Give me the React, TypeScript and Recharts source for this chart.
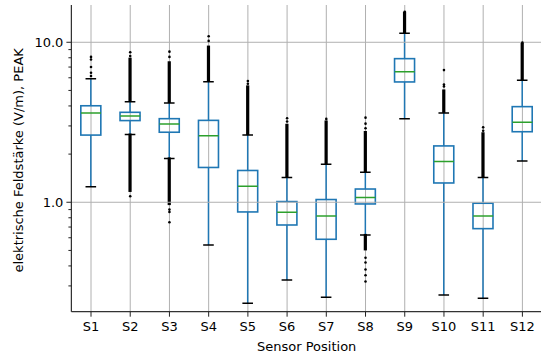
import React from "react";
import { ComposedChart, Bar, Scatter, XAxis, YAxis, CartesianGrid, ReferenceLine } from "recharts";

const sensors = ["S1", "S2", "S3", "S4", "S5", "S6", "S7", "S8", "S9", "S10", "S11", "S12"];
const whiskerLow = [1.25, 2.65, 1.88, 0.541, 0.234, 0.327, 0.255, 0.625, 3.33, 0.263, 0.251, 1.81];
const q1 = [2.63, 3.24, 2.74, 1.65, 0.87, 0.721, 0.587, 0.976, 5.65, 1.32, 0.684, 2.76];
const median = [3.62, 3.46, 3.09, 2.6, 1.26, 0.866, 0.821, 1.07, 6.55, 1.8, 0.821, 3.16];
const q3 = [4.01, 3.65, 3.33, 3.25, 1.58, 1.01, 1.04, 1.21, 7.9, 2.25, 0.986, 3.96];
const whiskerHigh = [5.92, 4.25, 4.17, 5.67, 2.63, 1.43, 1.73, 1.54, 11.4, 3.62, 1.43, 5.79];

// fliers so dense they merge into a solid strip (end of strip), null = none
const denseHighTop: (number | null)[] = [null, 7.9, 7.5, 9.4, 5.3, 3.05, 3.2, 2.75, 15.3, 5.0, 2.7, 9.8];
const denseLowBottom: (number | null)[] = [null, 1.16, 0.96, null, null, null, null, 0.5, null, null, null, null];
// single flier dots that stand apart
const sparseFliers: number[][] = [
  [6.15, 6.45, 7.0, 7.8, 8.1],
  [8.2, 8.66, 1.09],
  [8.1, 8.74, 0.9, 0.87, 0.75],
  [10.2, 10.9],
  [5.5, 5.73],
  [3.2, 3.35],
  [3.32],
  [2.9, 3.1, 3.38, 0.45, 0.42, 0.38, 0.35, 0.32],
  [15.5],
  [5.3, 5.45, 6.7],
  [2.8, 2.94],
  [9.95],
];

const yMajor = [1, 10];
const yMinor = [0.3, 0.4, 0.5, 0.6, 0.7, 0.8, 0.9, 2, 3, 4, 5, 6, 7, 8, 9];

const BLUE = "#1f77b4";
const GREEN = "#2ca02c";
const FONT = "DejaVu Sans";
const BOX_HALF = 10;
const CAP_HALF = 5.3;

const maxFliers = Math.max(...sparseFliers.map((f) => f.length));
const flierKeys = Array.from({ length: maxFliers }, (_, k) => "o" + k);

const rows = sensors.map((name, i) => {
  const row: any = {
    name,
    med: median[i],
    box: [q1[i], q3[i]],
    whiskUp: [q3[i], whiskerHigh[i]],
    whiskDown: [whiskerLow[i], q1[i]],
    denseUp: denseHighTop[i] != null ? [whiskerHigh[i], denseHighTop[i]] : null,
    denseDown: denseLowBottom[i] != null ? [denseLowBottom[i], whiskerLow[i]] : null,
  };
  sparseFliers[i].forEach((v, k) => (row["o" + k] = v));
  return row;
});

function span(p: any) {
  const top = Math.min(p.y, p.y + p.height);
  const bottom = Math.max(p.y, p.y + p.height);
  return { cx: p.x + p.width / 2, top, bottom };
}

function WhiskerUp(p: any) {
  if (!p.payload || !p.payload.whiskUp) return <g />;
  const { cx, top, bottom } = span(p);
  return (
    <g>
      <line x1={cx} x2={cx} y1={top} y2={bottom} stroke={BLUE} strokeWidth={1.5} />
      <line x1={cx - CAP_HALF} x2={cx + CAP_HALF} y1={top} y2={top} stroke="#000" strokeWidth={1.5} />
    </g>
  );
}

function WhiskerDown(p: any) {
  if (!p.payload || !p.payload.whiskDown) return <g />;
  const { cx, top, bottom } = span(p);
  return (
    <g>
      <line x1={cx} x2={cx} y1={top} y2={bottom} stroke={BLUE} strokeWidth={1.5} />
      <line x1={cx - CAP_HALF} x2={cx + CAP_HALF} y1={bottom} y2={bottom} stroke="#000" strokeWidth={1.5} />
    </g>
  );
}

function BoxShape(p: any) {
  const { cx, top, bottom } = span(p);
  return (
    <rect x={cx - BOX_HALF} y={top} width={BOX_HALF * 2} height={bottom - top} fill="none" stroke={BLUE} strokeWidth={1.6} />
  );
}

function DenseStrip(key: string) {
  return (p: any) => {
    if (!p.payload || !p.payload[key]) return <g />;
    const { cx, top, bottom } = span(p);
    return <rect x={cx - 1.6} y={top - 1} width={3.2} height={bottom - top + 1} fill="#000" />;
  };
}

function MedianShape(p: any) {
  if (p.cx == null || p.cy == null || isNaN(p.cy)) return <g />;
  return <line x1={p.cx - BOX_HALF} x2={p.cx + BOX_HALF} y1={p.cy} y2={p.cy} stroke={GREEN} strokeWidth={1.5} />;
}

function FlierDot(p: any) {
  if (p.cx == null || p.cy == null || isNaN(p.cy)) return <g />;
  return <circle cx={p.cx} cy={p.cy} r={1.3} fill="#000" />;
}

function YTick(p: any) {
  const { x, y, payload } = p;
  const major = yMajor.includes(payload.value);
  return (
    <g>
      <line x1={x - (major ? 5 : 3)} x2={x} y1={y} y2={y} stroke="#222" strokeWidth={1} />
      {major && (
        <text x={x - 8} y={y} textAnchor="end" dominantBaseline="central" fontFamily={FONT} fontSize={13} fill="#000">
          {payload.value.toFixed(1)}
        </text>
      )}
    </g>
  );
}

function YLabel(p: any) {
  const vb = p.viewBox || { x: 0, y: 0, width: 0, height: 0 };
  const cx = 19;
  const cy = vb.y + vb.height / 2 + 2;
  return (
    <text x={cx} y={cy} transform={`rotate(-90 ${cx} ${cy})`} textAnchor="middle" dominantBaseline="central" fontFamily={FONT} fontSize={13} fill="#000">
      elektrische Feldstärke (V/m), PEAK
    </text>
  );
}

function XLabel(p: any) {
  const vb = p.viewBox || { x: 0, y: 0, width: 0, height: 0 };
  return (
    <text x={vb.x + vb.width / 2} y={351} textAnchor="middle" fontFamily={FONT} fontSize={13} fill="#000">
      Sensor Position
    </text>
  );
}

const hiddenAxes = ["wu", "wd", "box", "du", "dd"];

export default function App() {
  return (
    <div style={{ width: 541, height: 354, overflow: "hidden", background: "#fff" }}>
      <style>{"body{margin:0}"}</style>
      <ComposedChart
        width={545}
        height={354}
        data={rows}
        margin={{ top: 5, right: 3, bottom: 0, left: 0 }}
      >
        <CartesianGrid stroke="#b0b0b0" strokeWidth={1} horizontal={false} />
        {yMajor.map((v) => (
          <ReferenceLine key={v} y={v} stroke="#b0b0b0" strokeWidth={1} />
        ))}
        <XAxis
          dataKey="name"
          height={42.3}
          tickSize={5}
          tickMargin={5}
          stroke="#222"
          axisLine={{ stroke: "#333", strokeWidth: 1.2 }}
          tickLine={{ stroke: "#222" }}
          tick={{ fontFamily: FONT, fontSize: 13, fill: "#000" }}
          interval={0}
          label={<XLabel />}
        />
        <XAxis xAxisId="top" dataKey="name" orientation="top" height={0} tick={false} tickLine={false} axisLine={{ stroke: "#333", strokeWidth: 1.2 }} />
        {hiddenAxes.map((id) => (
          <XAxis key={id} xAxisId={id} dataKey="name" hide />
        ))}
        <YAxis
          scale="log"
          domain={[0.207, 17.1]}
          allowDataOverflow
          ticks={[...yMinor, ...yMajor].sort((a, b) => a - b)}
          interval={0}
          width={71.4}
          tickSize={0}
          tickMargin={0}
          tickLine={false}
          axisLine={{ stroke: "#333", strokeWidth: 1.2 }}
          tick={<YTick />}
          label={<YLabel />}
        />
        <Bar xAxisId="wu" dataKey="whiskUp" shape={WhiskerUp} isAnimationActive={false} />
        <Bar xAxisId="wd" dataKey="whiskDown" shape={WhiskerDown} isAnimationActive={false} />
        <Bar xAxisId="box" dataKey="box" shape={BoxShape} isAnimationActive={false} />
        <Bar xAxisId="du" dataKey="denseUp" shape={DenseStrip("denseUp")} isAnimationActive={false} />
        <Bar xAxisId="dd" dataKey="denseDown" shape={DenseStrip("denseDown")} isAnimationActive={false} />
        <Scatter dataKey="med" shape={MedianShape} isAnimationActive={false} />
        {flierKeys.map((k) => (
          <Scatter key={k} dataKey={k} shape={FlierDot} isAnimationActive={false} />
        ))}
      </ComposedChart>
    </div>
  );
}
